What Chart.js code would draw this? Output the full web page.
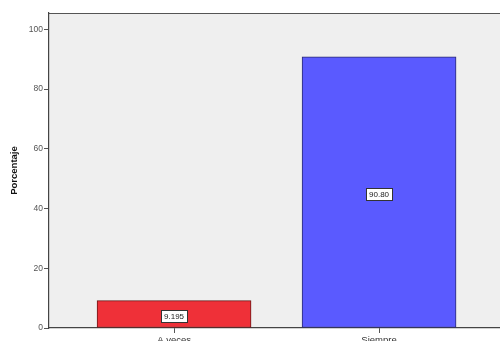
<!DOCTYPE html>
<html>
<head>
<meta charset="utf-8">
<script src="https://cdn.jsdelivr.net/npm/chart.js@4/dist/chart.umd.min.js"></script>
<style>
html,body{margin:0;padding:0;background:#fff;}
#wrap{width:500px;height:341px;position:relative;}
</style>
</head>
<body>
<div id="wrap"><canvas id="c" width="500" height="341"></canvas></div>
<script>
const categories = ['A veces', 'Siempre'];
const values = [9.195, 90.805];
const valueLabels = ['9.195', '90.80'];
const yTicks = [0, 20, 40, 60, 80, 100];
const barColors = ['#ef3038', '#5a5aff'];
const barBorders = ['#6a1818', '#2a2a70'];

const bgPlugin = {
  id: 'bg',
  beforeDraw(chart) {
    const {ctx, chartArea: a} = chart;
    ctx.save();
    ctx.fillStyle = '#fff';
    ctx.fillRect(0, 0, chart.width, chart.height);
    ctx.fillStyle = '#efefef';
    ctx.fillRect(a.left, a.top, a.right - a.left, a.bottom - a.top);
    ctx.strokeStyle = '#555';
    ctx.lineWidth = 1.2;
    ctx.beginPath();
    ctx.moveTo(a.left, a.top + 0.5);
    ctx.lineTo(a.right, a.top + 0.5);
    ctx.stroke();
    ctx.restore();
  }
};

const labelPlugin = {
  id: 'vlabels',
  afterDatasetsDraw(chart) {
    const {ctx} = chart;
    const meta = chart.getDatasetMeta(0);
    ctx.save();
    ctx.font = '8px "Liberation Sans", Arial, sans-serif';
    ctx.textAlign = 'center';
    ctx.textBaseline = 'middle';
    meta.data.forEach((bar, i) => {
      const txt = valueLabels[i];
      const cx = bar.x;
      const cy = (bar.y + bar.base) / 2 + 2;
      const w = ctx.measureText(txt).width + 6;
      const h = 12;
      ctx.fillStyle = '#fff';
      ctx.fillRect(cx - w / 2, cy - h / 2, w, h);
      ctx.strokeStyle = '#333';
      ctx.lineWidth = 1;
      ctx.strokeRect(Math.round(cx - w / 2) + 0.5, Math.round(cy - h / 2) + 0.5, Math.round(w), h);
      ctx.fillStyle = '#222';
      ctx.fillText(txt, cx, cy + 0.5);
    });
    ctx.restore();
  }
};

new Chart(document.getElementById('c'), {
  type: 'bar',
  data: {
    datasets: [{
      data: values.map((v, i) => ({x: i, y: v})),
      backgroundColor: barColors,
      borderColor: barBorders,
      borderWidth: 1,
      borderSkipped: false,
      barThickness: 154
    }]
  },
  plugins: [bgPlugin, labelPlugin],
  options: {
    responsive: false,
    animation: false,
    layout: {padding: {left: 0, right: 0, top: 13, bottom: 0}},
    plugins: {legend: {display: false}, tooltip: {enabled: false}},
    scales: {
      x: {
        type: 'linear',
        min: -0.61,
        max: 1.59,
        offset: false,
        afterBuildTicks: s => { s.ticks = categories.map((c, i) => ({value: i})); },
        afterFit: s => { s.height = 13; },
        ticks: {
          callback: v => categories[v],
          font: {family: '"Liberation Sans", Arial, sans-serif', size: 9.5},
          color: '#333',
          padding: 2,
          maxRotation: 0,
          autoSkip: false
        },
        grid: {offset: false, drawOnChartArea: false, drawTicks: true, tickLength: 5, color: '#555'},
        border: {display: true, color: '#444', width: 1.2}
      },
      y: {
        min: 0,
        max: 105.5,
        afterBuildTicks: s => { s.ticks = yTicks.map(v => ({value: v})); },
        afterFit: s => { s.width = 49; },
        ticks: {
          font: {family: '"Liberation Sans", Arial, sans-serif', size: 8.5},
          color: '#555',
          padding: 1
        },
        grid: {drawOnChartArea: false, drawTicks: true, tickLength: 5, color: '#555'},
        border: {display: true, color: '#444', width: 1.2},
        title: {
          display: true,
          text: 'Porcentaje',
          font: {family: '"Liberation Sans", Arial, sans-serif', size: 9.5, weight: 'bold'},
          color: '#111',
          padding: {top: 9, bottom: 0}
        }
      }
    }
  }
});
</script>
</body>
</html>
